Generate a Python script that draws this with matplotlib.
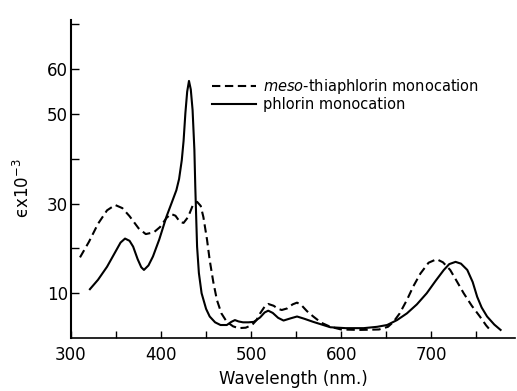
# 吸收光谱: phlorin 与 meso-thiaphlorin 单阳离子
import matplotlib.pyplot as plt

# 数据, 波长 nm, 消光系数 x 10^-3
wl_thia = [310, 320, 330, 340, 349, 357, 365, 375, 383, 392, 399, 406, 411, 416, 421, 425,
           430, 435, 440, 444, 447, 451, 454, 458, 462, 467, 473, 480, 486, 494, 501, 506,
           510, 515, 519, 525, 530, 534, 540, 546, 551, 556, 562, 569, 578, 588, 600, 620,
           642, 652, 658, 665, 673, 680, 688, 697, 706, 713, 721, 728, 736, 745, 754, 761, 767]
eps_thia = [18.0, 21.5, 25.5, 28.5, 29.7, 29.0, 27.2, 24.5, 23.2, 23.6, 24.8, 26.8, 27.7, 27.3,
            25.9, 25.7, 27.0, 29.5, 30.4, 29.5, 27.0, 22.0, 17.4, 12.5, 8.5, 5.5, 3.6, 2.6, 2.2,
            2.3, 2.9, 4.0, 5.5, 7.0, 7.6, 7.2, 6.5, 6.25, 6.6, 7.5, 7.9, 7.3, 6.0, 4.8, 3.4, 2.5,
            1.9, 1.8, 1.9, 2.5, 3.6, 5.5, 8.5, 11.5, 14.4, 16.8, 17.6, 16.9, 15.2, 12.8, 10.0,
            7.2, 4.8, 2.8, 1.4]

wl_phl = [321, 330, 340, 350, 355, 360, 365, 369, 374, 378, 381, 386, 391, 398, 406, 412, 417,
          420, 423, 425, 427, 429, 431, 433, 435, 437, 438, 439, 440, 442, 445, 450, 454, 460,
          466, 473, 478, 482, 486, 491, 497, 503, 510, 515, 519, 524, 530, 536, 544, 551, 559,
          569, 588, 605, 625, 640, 651, 662, 673, 684, 695, 705, 714, 720, 727, 733, 740, 746,
          751, 756, 762, 770, 777]
eps_phl = [10.9, 13.0, 15.9, 19.5, 21.3, 22.2, 21.7, 20.4, 17.6, 15.8, 15.2, 16.2, 18.2, 22.0,
           27.1, 30.3, 33.0, 35.5, 39.7, 44.0, 50.2, 55.0, 57.4, 55.5, 50.9, 42.0, 33.8, 27.0,
           20.4, 14.5, 10.0, 6.5, 4.8, 3.5, 2.9, 2.9, 3.6, 4.0, 3.7, 3.5, 3.5, 3.6, 4.6, 5.7,
           6.1, 5.6, 4.5, 3.9, 4.4, 4.8, 4.3, 3.6, 2.4, 2.2, 2.2, 2.5, 2.9, 4.0, 5.5, 7.5, 10.0,
           12.8, 15.2, 16.5, 17.0, 16.6, 15.2, 12.5, 9.2, 6.8, 4.8, 3.0, 1.8]

# 刻度
x_ticks = [300, 350, 400, 450, 500, 550, 600, 650, 700, 750]
x_labels = ['300', '', '400', '', '500', '', '600', '', '700', '']
y_ticks = [10, 20, 30, 40, 50, 60, 70]
y_labels = ['10', '', '30', '', '50', '60', '']

fig = plt.figure(figsize=(5.17, 3.91), dpi=100)
ax = fig.add_axes([71 / 517, 1 - 338 / 391, 444 / 517, 318 / 391])

ax.plot(wl_thia, eps_thia, color='black', lw=1.5, ls=(0, (4, 2.2)),
        label=r'$\it{meso}$-thiaphlorin monocation')
ax.plot(wl_phl, eps_phl, color='black', lw=1.5, label='phlorin monocation')

ax.set_xlim(300, 793)
ax.set_ylim(0, 71)
ax.spines['top'].set_visible(False)
ax.spines['right'].set_visible(False)
ax.spines['left'].set_linewidth(1.5)
ax.spines['bottom'].set_linewidth(1.2)

ax.set_xticks(x_ticks)
ax.set_xticklabels(x_labels, fontsize=12)
ax.set_yticks(y_ticks)
ax.set_yticklabels(y_labels, fontsize=12)
ax.tick_params(axis='x', direction='in', length=5, width=1, pad=6)
ax.tick_params(axis='y', direction='in', length=6, width=1, pad=2)

ax.set_xlabel('Wavelength (nm.)', fontsize=12)
ax.xaxis.set_label_coords(0.5, -0.1)
# 纵轴: 直立的 epsilon
ax.set_ylabel('\u03f5x10$^{-3}$', fontsize=12)
ax.yaxis.set_label_coords(-0.085, 0.47)

# 图例, 无边框
ax.legend(loc='upper left', bbox_to_anchor=(212 / 517, 1 - 77 / 391), bbox_transform=fig.transFigure,
          frameon=False, fontsize=10.5, handlelength=3, handletextpad=0.5, labelspacing=0.1,
          borderpad=0, borderaxespad=0)

plt.savefig('out.png')
